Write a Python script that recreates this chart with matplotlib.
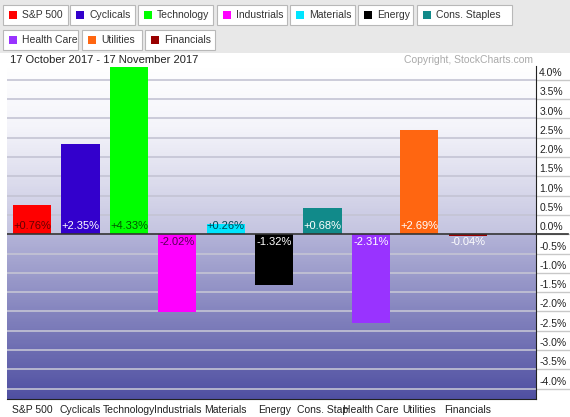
import numpy as np
import matplotlib.pyplot as plt
from matplotlib.patches import Rectangle
from matplotlib.colors import LinearSegmentedColormap

plt.rcParams['font.family'] = ['Liberation Sans', 'DejaVu Sans']

# data
sectors = ["S&P 500", "Cyclicals", "Technology", "Industrials", "Materials",
           "Energy", "Cons. Staples", "Health Care", "Utilities", "Financials"]
axis_names = ["S&P 500", "Cyclicals", "Technology", "Industrials", "Materials",
              "Energy", "Cons. Stap", "Health Care", "Utilities", "Financials"]
changes = [0.76, 2.35, 4.33, -2.02, 0.26, -1.32, 0.68, -2.31, 2.69, -0.04]
colors = ["#ff0000", "#3300cc", "#00ff00", "#ff00ff", "#00e5ff",
          "#000000", "#118a8a", "#9933ff", "#ff6611", "#990000"]
label_colors = ["#660000", "white", "#005500", "#550055", "#004455",
                "white", "white", "white", "white", "white"]
ticks = np.arange(-4.0, 4.01, 0.5)

W, H = 570, 417
fig = plt.figure(figsize=(W / 100, H / 100), dpi=100)


def fx(x):
    return x / W


def fy(y):
    return 1 - y / H


# top legend band
fig.patches.append(Rectangle((0, fy(53)), 1, 53 / H, transform=fig.transFigure,
                             facecolor="#e8e8e8", edgecolor="none", zorder=0))
buttons = [(3, 5, 65), (70, 5, 65), (138, 5, 75), (217, 5, 70), (290, 5, 65),
           (358, 5, 55), (417, 5, 95), (3, 30, 75), (82, 30, 60), (145, 30, 70)]
for (bx, by, bw), name, c in zip(buttons, sectors, colors):
    fig.patches.append(Rectangle((fx(bx), fy(by + 20)), bw / W, 20 / H,
                                 transform=fig.transFigure, facecolor="white",
                                 edgecolor="#b8b8b8", linewidth=0.8, zorder=1))
    fig.patches.append(Rectangle((fx(bx + 6), fy(by + 14)), 8 / W, 8 / H,
                                 transform=fig.transFigure, facecolor=c,
                                 edgecolor="none", zorder=2))
    fig.text(fx(bx + 19), fy(by + 10), name, fontsize=7.5, color="#333333",
             va="center", ha="left")

fig.text(fx(10), fy(60), "17 October 2017 - 17 November 2017", fontsize=8,
         color="#222222", va="center", ha="left")
fig.text(fx(533), fy(60), "Copyright, StockCharts.com", fontsize=7.5,
         color="#aaaaaa", va="center", ha="right")

ax = fig.add_axes([fx(7), fy(399), (536 - 7) / W, (399 - 66) / H])
ymin, ymax = -4.27, 4.36
xmin, xmax = -0.52, 10.41
ax.set_xlim(xmin, xmax)
ax.set_ylim(ymin, ymax)

# background gradient, zero sits at the middle of the colormap
cmap = LinearSegmentedColormap.from_list(
    "bg", [(0.0, "#5050a2"), (0.5, "#b4b4d8"), (0.5, "#c4c4e0"),
           (0.82, "#f4f4fa"), (1.0, "#ffffff")])
grad = np.linspace(ymin, ymax, 300)
pos = np.where(grad < 0, 0.5 * (grad - ymin) / (0 - ymin),
               0.5 + 0.5 * grad / ymax)
ax.imshow(pos.reshape(-1, 1), cmap=cmap, vmin=0, vmax=1, aspect="auto",
          origin="lower", extent=[xmin, xmax, ymin, ymax], zorder=0)

for t in ticks:
    if abs(t) > 1e-9:
        ax.axhline(t, color="#c4c4d4", linewidth=1.2, zorder=1)

x = np.arange(len(sectors))
ax.bar(x, changes, width=0.79, color=colors, zorder=2)
ax.axhline(0, color="#333333", linewidth=1.2, zorder=3)

for xi, v, lc in zip(x, changes, label_colors):
    if v >= 0:
        ax.text(xi, 0.08, f"+{v:.2f}%", ha="center", va="bottom", fontsize=8,
                color=lc, zorder=4)
    else:
        ax.text(xi, -0.06, f"{v:.2f}%", ha="center", va="top", fontsize=8,
                color=lc, zorder=4)

ax.set_xticks(x)
ax.set_xticklabels(axis_names, fontsize=7.5, color="#222222")
ax.tick_params(axis="x", length=0, pad=4)

ax.yaxis.tick_right()
ax.set_yticks(ticks)
ax.set_yticklabels([])
ax.tick_params(axis="y", length=29, color="#c8c8c8", width=1)
for t in ticks:
    ax.text(1.006, t + 0.05, f"{t:.1f}%", transform=ax.get_yaxis_transform(),
            fontsize=7.5, color="#222222", va="bottom", ha="left")
ax.plot([1, 1.06], [0, 0], transform=ax.get_yaxis_transform(),
        color="#333333", linewidth=1.2, clip_on=False, zorder=5)

for side in ["top", "left"]:
    ax.spines[side].set_visible(False)
ax.spines["right"].set_color("#222222")
ax.spines["bottom"].set_color("#222222")

fig.savefig("out.png", dpi=100)
